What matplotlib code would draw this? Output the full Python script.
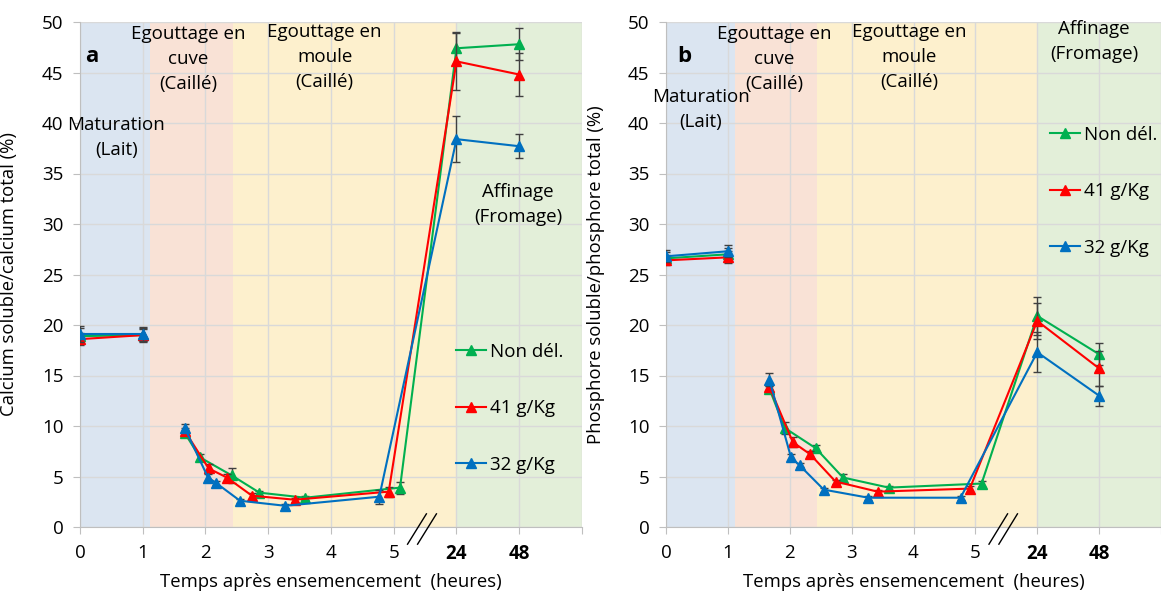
import numpy as np
import matplotlib
matplotlib.use('Agg')
import matplotlib.pyplot as plt

plt.rcParams['font.family'] = ['Open Sans', 'DejaVu Sans']

# hours after inoculation; 24 and 48 are placed after a break
milk_t = [0, 1]
tick_hours = [0, 1, 2, 3, 4, 5, 24, 48]
series_names = ['Non dél.', '41 g/Kg', '32 g/Kg']
series_colors = ['#00b050', '#ff0000', '#0070c0']

# panel a : calcium
ca_milk = [[18.9, 19.0], [18.6, 19.0], [19.1, 19.1]]
ca_milk_err = [[0.8, 0.7], [0.6, 0.6], [0.8, 0.7]]
ca_t = [[1.67, 1.91, 2.42, 2.86, 3.59, 5.1, 24, 48],
        [1.67, 2.05, 2.34, 2.74, 3.42, 4.92, 24, 48],
        [1.67, 2.04, 2.16, 2.55, 3.27, 4.77, 24, 48]]
ca_val = [[9.3, 6.9, 5.1, 3.4, 2.9, 3.9, 47.4, 47.8],
          [9.5, 5.8, 4.9, 3.1, 2.7, 3.5, 46.1, 44.8],
          [9.8, 4.9, 4.4, 2.6, 2.1, 3.0, 38.4, 37.7]]
ca_err = [[0.3, 0.3, 0.7, 0.2, 0.2, 0.6, 1.6, 1.6],
          [0.3, 0.4, 0.3, 0.3, 0.2, 0.5, 2.8, 2.1],
          [0.4, 0.3, 0.2, 0.2, 0.2, 0.7, 2.3, 1.2]]

# panel b : phosphore
p_milk = [[26.6, 27.0], [26.4, 26.7], [26.8, 27.3]]
p_milk_err = [[0.6, 0.6], [0.5, 0.6], [0.6, 0.6]]
p_t = [[1.67, 1.92, 2.42, 2.86, 3.6, 5.1, 24, 48],
       [1.67, 2.05, 2.33, 2.74, 3.42, 4.91, 24, 48],
       [1.67, 2.02, 2.16, 2.55, 3.27, 4.76, 24, 48]]
p_val = [[13.7, 9.8, 7.8, 4.9, 3.9, 4.3, 20.9, 17.1],
         [13.9, 8.4, 7.2, 4.5, 3.5, 3.8, 20.4, 15.7],
         [14.6, 6.9, 6.1, 3.7, 2.9, 2.9, 17.3, 13.0]]
p_err = [[0.3, 0.6, 0.3, 0.3, 0.2, 0.3, 1.9, 1.1],
         [0.3, 0.5, 0.3, 0.2, 0.2, 0.3, 1.8, 1.7],
         [0.6, 0.3, 0.2, 0.2, 0.2, 0.2, 2.0, 1.0]]

# background phases (in axis position units)
phases = [(0, 1.12, '#dbe5f1'), (1.12, 2.44, '#f9e2d6'),
          (2.44, 6, '#fdf0cd'), (6, 8, '#e3efd9')]

FS = 13.5


def pos(h):
    h = np.asarray(h, dtype=float)
    return np.where(h == 24, 6, np.where(h == 48, 7, h))


def panel(ax, milk, milk_err, tt, vals, errs, ylabel, letter, xlim):
    for a, b, c in phases:
        ax.axvspan(a, b, color=c, lw=0, zorder=0)
    ax.set_xlim(0, xlim)
    ax.set_ylim(0, 50)
    ax.set_yticks(np.arange(0, 51, 5))
    ax.set_xticks(range(0, 9))
    ax.set_xticklabels([str(h) for h in tick_hours] + [''])
    for lab in ax.get_xticklabels()[6:8]:
        lab.set_fontweight('bold')
    ax.grid(True, color='#d9d9d9', lw=1, zorder=1)
    for s in ['top', 'right']:
        ax.spines[s].set_visible(False)
    for s in ['left', 'bottom']:
        ax.spines[s].set_color('#bfbfbf')
    ax.tick_params(length=5, color='#bfbfbf', labelsize=FS, pad=7)

    handles = []
    for i in range(3):
        c = series_colors[i]
        ax.errorbar(pos(milk_t), milk[i], yerr=milk_err[i], color=c, lw=1.5,
                    marker='^', ms=7, ecolor='#404040', elinewidth=1,
                    capsize=3, zorder=3 + i)
        eb = ax.errorbar(pos(tt[i]), vals[i], yerr=errs[i], color=c, lw=1.5,
                         marker='^', ms=7, ecolor='#404040', elinewidth=1,
                         capsize=3, zorder=3 + i)
        handles.append(eb[0])

    # axis break mark
    for dx in [0, 0.16]:
        ax.plot([5.22 + dx, 5.52 + dx], [-1.7, 1.3], color='black', lw=1,
                clip_on=False, zorder=10)

    ax.set_ylabel(ylabel, fontsize=13.3)
    ax.set_xlabel('Temps après ensemencement  (heures)', fontsize=13.3)
    ax.text(0.19 if letter == 'a' else 0.29, 46.6, letter, fontsize=16,
            fontweight='bold', ha='center', va='center')
    return handles


fig = plt.figure(figsize=(11.61, 5.99), dpi=100)
ax1 = fig.add_axes([80 / 1161, 72 / 599, 502 / 1161, 505 / 599])
ax2 = fig.add_axes([666 / 1161, 72 / 599, 495 / 1161, 505 / 599])

h1 = panel(ax1, ca_milk, ca_milk_err, ca_t, ca_val, ca_err,
           'Calcium soluble/calcium total (%)', 'a', 8)
h2 = panel(ax2, p_milk, p_milk_err, p_t, p_val, p_err,
           'Phosphore soluble/phosphore total (%)', 'b', 495 / 62.75)

kw = dict(fontsize=FS, ha='center', va='center', linespacing=1.5, zorder=8)
ax1.text(1.73, 46.3, 'Egouttage en\ncuve\n(Caillé)', **kw)
ax1.text(3.9, 46.5, 'Egouttage en\nmoule\n(Caillé)', **kw)
ax1.text(0.58, 38.6, 'Maturation\n(Lait)', **kw)
ax1.text(6.98, 31.9, 'Affinage\n(Fromage)', **kw)
ax2.text(1.75, 46.3, 'Egouttage en\ncuve\n(Caillé)', **kw)
ax2.text(3.93, 46.5, 'Egouttage en\nmoule\n(Caillé)', **kw)
ax2.text(0.56, 41.3, 'Maturation\n(Lait)', **kw)
ax2.text(6.92, 48.1, 'Affinage\n(Fromage)', **kw)

for ax, h, anchor in [(ax1, h1, ((456 - 80) / 502, (527 - 343) / 505)),
                      (ax2, h2, ((1050 - 666) / 495, (527 - 126) / 505))]:
    ax.legend(h, series_names, loc='upper left', bbox_to_anchor=anchor,
              frameon=False, fontsize=FS, labelspacing=2.05, handlelength=1.6,
              handletextpad=0.2, borderpad=0, borderaxespad=0)

ax1.yaxis.set_label_coords(-62 / 502, 0.5)
ax2.yaxis.set_label_coords(-61 / 495, 0.5)
ax1.xaxis.set_label_coords(0.5, -46 / 505)
ax2.xaxis.set_label_coords(0.5, -46 / 505)

fig.savefig('out.png', dpi=100)
